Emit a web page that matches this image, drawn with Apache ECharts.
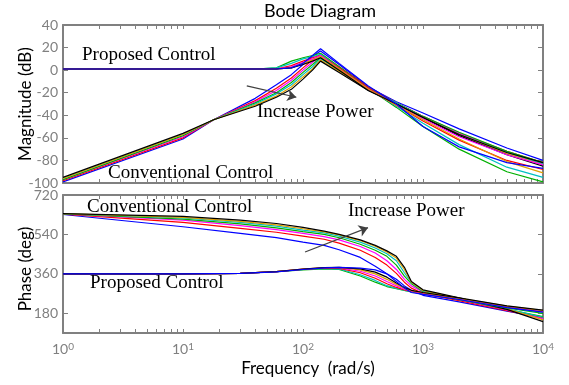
<!DOCTYPE html>
<html>
  <head>
    <meta charset="utf-8" />
  </head>
  <body style="margin: 0">
    <div id="container" style="width: 569px; height: 385px"></div>
    <script src="https://fastly.jsdelivr.net/npm/echarts@6/dist/echarts.min.js"></script>
    <script type="text/javascript">
      // frequencies (rad/s) the curves are read at
      var freqMag = [1, 10, 18, 40, 60, 80, 100, 120, 140, 200, 350, 600, 1000, 2000, 5000, 10000];
      var freqPh = [1, 10, 30, 60, 100, 150, 200, 300, 400, 500, 600, 700, 800, 1000, 2000, 5000, 10000];

      // magnitude (dB), conventional control
      var convMagBlue = [-99, -61, -44, -25, -13, -4, 5, 12, 17, 5, -15, -28, -38, -52, -69, -80];
      var convMagRed = [-98, -60, -44, -27, -16, -7, 2, 9, 14, 3, -15, -29, -41, -56, -72, -82];
      var convMagMagenta = [-97, -59, -44, -28, -18, -9, 0, 7, 12, 2, -16, -29, -41, -56, -73, -83];
      var convMagGreen = [-97, -58, -44, -29, -20, -11, -2, 5, 11, 1, -16, -29, -41, -55, -72, -82];
      var convMagCyan = [-96, -57, -44, -30, -21, -13, -4, 3, 10, 0, -17, -29, -42, -57, -73, -83];
      var convMagOrange = [-96, -57, -44, -31, -23, -15, -6, 1, 9, -1, -17, -30, -42, -57, -74, -84];
      var convMagBlack = [-95, -56, -44, -32, -24, -17, -8, 0, 8, -2, -18, -30, -42, -58, -75, -85];

      // magnitude (dB), proposed control
      var propMagGreen = [1, 1, 1, 1, 2, 8, 11, 13, 15, 3, -16, -33, -50, -70, -90, -99];
      var propMagCyan = [1, 1, 1, 1, 2, 6, 10, 12, 14, 2, -16, -32, -47, -66, -86, -95];
      var propMagRed = [1, 1, 1, 1, 1, 4, 8, 11, 13, 2, -16, -31, -45, -62, -80, -88];
      var propMagMagenta = [1, 1, 1, 1, 1, 3, 7, 10, 13, 1, -17, -31, -43, -59, -75, -84];
      var propMagOrange = [1, 1, 1, 1, 1, 2, 6, 9, 12, 1, -17, -31, -44, -61, -81, -91];
      var propMagBlack = [1, 1, 1, 1, 1, 2, 5, 8, 11, 0, -18, -30, -42, -57, -73, -82];
      var propMagBlue = [1, 1, 1, 1, 1, 2, 6, 13, 19, 6, -14, -30, -50, -68, -82, -87];

      // phase (deg), conventional control
      var convPhBlue = [631, 575, 545, 525, 505, 490, 470, 435, 395, 360, 335, 305, 285, 262, 232, 190, 160];
      var convPhRed = [633, 595, 568, 550, 532, 518, 500, 468, 435, 400, 362, 322, 295, 270, 238, 192, 158];
      var convPhMagenta = [634, 605, 580, 562, 545, 530, 515, 485, 455, 420, 380, 335, 305, 277, 242, 195, 155];
      var convPhGreen = [634, 610, 588, 570, 553, 540, 525, 495, 468, 440, 400, 350, 315, 280, 245, 198, 165];
      var convPhCyan = [635, 615, 595, 578, 560, 547, 532, 505, 478, 452, 420, 365, 320, 282, 247, 200, 162];
      var convPhOrange = [635, 618, 600, 584, 566, 552, 538, 512, 486, 460, 432, 380, 322, 284, 248, 200, 150];
      var convPhBlack = [635, 622, 605, 590, 572, 555, 540, 515, 490, 465, 440, 390, 325, 287, 250, 198, 142];

      // phase (deg), proposed control
      var propPhGreen = [360, 360, 362, 370, 378, 383, 380, 350, 322, 302, 292, 284, 278, 270, 242, 205, 180];
      var propPhCyan = [360, 360, 362, 370, 380, 385, 382, 356, 330, 306, 294, 285, 279, 271, 244, 208, 185];
      var propPhRed = [360, 360, 362, 370, 381, 386, 385, 365, 340, 315, 298, 287, 280, 272, 246, 210, 188];
      var propPhMagenta = [360, 360, 362, 370, 382, 387, 387, 372, 350, 325, 305, 290, 281, 273, 247, 212, 190];
      var propPhOrange = [360, 360, 362, 370, 382, 388, 389, 378, 360, 335, 312, 294, 283, 274, 248, 213, 192];
      var propPhBlack = [360, 360, 362, 370, 382, 388, 390, 383, 368, 345, 318, 298, 285, 275, 250, 214, 194];
      var propPhBlue = [360, 360, 362, 369, 380, 387, 390, 386, 378, 360, 325, 295, 275, 266, 243, 206, 185];

      var xMajor = [1, 10, 100, 1000, 10000];
      var magTicks = [-100, -80, -60, -40, -20, 0, 20, 40];
      var phTicks = [180, 360, 540, 720];

      var BLUE = "#0000ff", RED = "#ff0000", MAG = "#ff00ff", GRN = "#00b000",
        CYN = "#00c0c0", ORG = "#e0a000", BLK = "#000000";

      var magCurves = [
        [convMagBlue, BLUE], [convMagRed, RED], [convMagMagenta, MAG], [convMagGreen, GRN],
        [convMagCyan, CYN], [convMagOrange, ORG], [convMagBlack, BLK],
        [propMagGreen, GRN], [propMagCyan, CYN], [propMagRed, RED], [propMagMagenta, MAG],
        [propMagOrange, ORG], [propMagBlack, BLK], [propMagBlue, BLUE]
      ];
      var phCurves = [
        [convPhBlue, BLUE], [convPhRed, RED], [convPhMagenta, MAG], [convPhGreen, GRN],
        [convPhCyan, CYN], [convPhOrange, ORG], [convPhBlack, BLK],
        [propPhGreen, GRN], [propPhCyan, CYN], [propPhRed, RED], [propPhMagenta, MAG],
        [propPhOrange, ORG], [propPhBlack, BLK], [propPhBlue, BLUE]
      ];

      // minor ticks of the log axis: 1..9 in each decade
      var minorTicks = [];
      for (var d = 0; d < 4; d++) {
        for (var k = 1; k < 10; k++) minorTicks.push(k * Math.pow(10, d));
      }
      minorTicks.push(10000);

      var GRAY = "#808080";
      var SANS = "Lato";
      var SERIF = "Liberation Serif";

      function xAxis(grid, pos, labels) {
        return {
          type: "log",
          logBase: 10,
          gridIndex: grid,
          position: pos,
          min: 1,
          max: 10000,
          axisLine: { show: true, onZero: false, lineStyle: { color: GRAY, width: 2 } },
          axisTick: { show: true, inside: true, length: 4, customValues: minorTicks, lineStyle: { color: GRAY } },
          axisLabel: {
            show: labels,
            customValues: xMajor,
            margin: 9,
            formatter: function (v) {
              return "{b|10}{s|" + Math.round(Math.log10(v)) + "}";
            },
            rich: {
              b: { fontSize: 14, color: GRAY, fontFamily: SANS },
              s: { fontSize: 10, color: GRAY, fontFamily: SANS, verticalAlign: "top" }
            }
          },
          splitLine: { show: false }
        };
      }
      function yAxis(grid, pos, labels, min, max, ticks) {
        return {
          type: "value",
          gridIndex: grid,
          position: pos,
          min: min,
          max: max,
          axisLine: { show: true, onZero: false, lineStyle: { color: GRAY, width: 2 } },
          axisTick: { show: true, inside: true, length: 5, customValues: ticks, lineStyle: { color: GRAY } },
          axisLabel: {
            show: labels,
            customValues: ticks,
            margin: 5,
            fontSize: 14,
            color: GRAY,
            fontFamily: SANS
          },
          splitLine: { show: false }
        };
      }

      var series = [];
      magCurves.forEach(function (c) {
        series.push({
          type: "line",
          xAxisIndex: 0,
          yAxisIndex: 0,
          symbol: "none",
          lineStyle: { color: c[1], width: 1.2 },
          data: freqMag.map(function (f, i) { return [f, c[0][i]]; })
        });
      });
      phCurves.forEach(function (c) {
        series.push({
          type: "line",
          xAxisIndex: 2,
          yAxisIndex: 2,
          symbol: "none",
          lineStyle: { color: c[1], width: 1.2 },
          data: freqPh.map(function (f, i) { return [f, c[0][i]]; })
        });
      });
      // "Increase Power" arrows
      series.push({
        type: "lines",
        coordinateSystem: "cartesian2d",
        xAxisIndex: 0,
        yAxisIndex: 0,
        symbol: ["none", "arrow"],
        symbolSize: 9,
        lineStyle: { color: "#404040", width: 1.2, opacity: 1 },
        data: [{ coords: [[34, -14], [88, -24]] }],
        z: 10
      });
      series.push({
        type: "lines",
        coordinateSystem: "cartesian2d",
        xAxisIndex: 2,
        yAxisIndex: 2,
        symbol: ["none", "arrow"],
        symbolSize: 9,
        lineStyle: { color: "#404040", width: 1.2, opacity: 1 },
        data: [{ coords: [[104, 460], [348, 571]] }],
        z: 10
      });

      function label(text, x, y, size, font) {
        return {
          type: "text",
          x: x,
          y: y,
          z: 100,
          style: { text: text, fontSize: size, fontFamily: font, fill: "#000", verticalAlign: "middle" }
        };
      }

      var option = {
        animation: false,
        backgroundColor: "#fff",
        grid: [
          { left: 63, right: 26, top: 25, height: 158 },
          { left: 63, right: 26, top: 195, height: 138 }
        ],
        xAxis: [
          xAxis(0, "bottom", false),
          xAxis(0, "top", false),
          xAxis(1, "bottom", true),
          xAxis(1, "top", false)
        ],
        yAxis: [
          yAxis(0, "left", true, -100, 40, magTicks),
          yAxis(0, "right", false, -100, 40, magTicks),
          yAxis(1, "left", true, 90, 720, phTicks),
          yAxis(1, "right", false, 90, 720, phTicks)
        ],
        series: series,
        graphic: [
          { type: "text", x: 320, y: 11, style: { text: "Bode Diagram", fontSize: 18, fontFamily: SANS, fill: "#000", align: "center", verticalAlign: "middle" } },
          { type: "text", x: 26, y: 104, rotation: Math.PI / 2, style: { text: "Magnitude (dB)", fontSize: 17, fontFamily: SANS, fill: "#000", align: "center", verticalAlign: "middle" } },
          { type: "text", x: 26, y: 269, rotation: Math.PI / 2, style: { text: "Phase (deg)", fontSize: 17, fontFamily: SANS, fill: "#000", align: "center", verticalAlign: "middle" } },
          { type: "text", x: 308, y: 369, style: { text: "Frequency  (rad/s)", fontSize: 17, fontFamily: SANS, fill: "#000", align: "center", verticalAlign: "middle" } },
          label("Proposed Control", 82, 55, 19, SERIF),
          label("Increase Power", 257, 112, 19, SERIF),
          label("Conventional Control", 108, 173, 19, SERIF),
          label("Conventional Control", 87, 207, 19, SERIF),
          label("Increase Power", 348, 211, 19, SERIF),
          label("Proposed Control", 90, 283, 19, SERIF)
        ]
      };

      var myChart = echarts.init(document.getElementById("container"), null, { renderer: "canvas" });
      myChart.setOption(option);
      window.addEventListener("resize", myChart.resize);
    </script>
  </body>
</html>
